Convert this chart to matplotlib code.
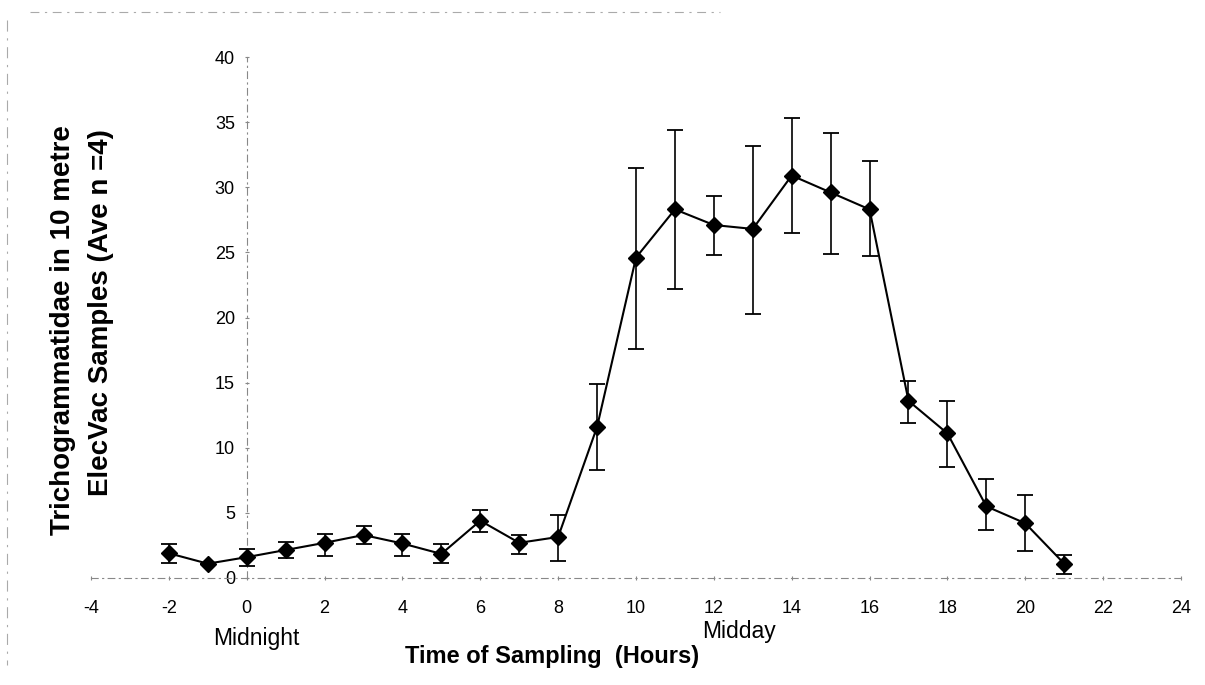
import matplotlib as mpl
import matplotlib.pyplot as plt
import numpy as np

# hours of sampling (relative to midnight)
hours = list(range(-2, 22))
# mean Trichogrammatidae counts (Ave n=4)
mean_count = [1.9, 1.1, 1.6, 2.15, 2.7, 3.3, 2.65, 1.85, 4.4, 2.7, 3.15, 11.6,
              24.6, 28.3, 27.1, 26.8, 30.9, 29.6, 28.3, 13.6, 11.1, 5.5, 4.2, 1.1]
# error bar ends
err_top = [2.6, 1.1, 2.2, 2.8, 3.4, 4.0, 3.4, 2.6, 5.2, 3.3, 4.8, 14.9,
           31.5, 34.4, 29.3, 33.2, 35.3, 34.2, 32.0, 15.1, 13.6, 7.6, 6.4, 1.8]
err_bot = [1.15, 1.1, 0.9, 1.5, 1.7, 2.6, 1.7, 1.15, 3.5, 1.85, 1.3, 8.3,
           17.6, 22.2, 24.8, 20.3, 26.5, 24.9, 24.7, 11.9, 8.5, 3.7, 2.1, 0.3]

x_ticks = list(range(-4, 25, 2))
y_ticks = list(range(0, 41, 5))

mpl.rcParams.update({"font.family": ["Liberation Sans", "DejaVu Sans"],
                     "axes.unicode_minus": False})

fig = plt.figure(figsize=(12.05, 6.85), dpi=100)
ax = fig.add_axes([91 / 1205, 1 - 578 / 685, (1181 - 91) / 1205, (578 - 57) / 685])

y = np.array(mean_count)
yerr = [y - np.array(err_bot), np.array(err_top) - y]
ax.errorbar(hours, y, yerr=yerr, color="black", lw=1.5, elinewidth=1.2,
            capsize=5.5, capthick=1.3, marker="D", ms=8.5, mfc="black", mec="black",
            zorder=3)

ax.set_xlim(-4, 24)
ax.set_ylim(0, 40)
ax.set_xticks(x_ticks)
ax.set_yticks(y_ticks)

for side in ("top", "right"):
    ax.spines[side].set_visible(False)
ax.spines["left"].set_position(("data", 0))
for side in ("left", "bottom"):
    ax.spines[side].set_color("#888888")
    ax.spines[side].set_linewidth(0.8)
    ax.spines[side].set_linestyle((0, (6, 4, 1, 4)))

ax.tick_params(axis="both", labelsize=13, colors="#888888", labelcolor="black",
               length=3, width=0.8, direction="inout")
ax.tick_params(axis="x", pad=14)
ax.tick_params(axis="y", pad=7)

ax.text(0.25, -0.117, "Midnight", transform=ax.get_xaxis_transform(),
        ha="center", va="center", fontsize=16.5)
ax.text(12.65, -0.102, "Midday", transform=ax.get_xaxis_transform(),
        ha="center", va="center", fontsize=16.5)
fig.text(552 / 1205, 1 - 656 / 685, "Time of Sampling  (Hours)",
         ha="center", va="center", fontsize=17, fontweight="bold")
fig.text(63 / 1205, 1 - 330 / 685, "Trichogrammatidae in 10 metre",
         ha="center", va="center", rotation=90, fontsize=20, fontweight="bold")
fig.text(101 / 1205, 1 - 313 / 685, "ElecVac Samples (Ave n =4)",
         ha="center", va="center", rotation=90, fontsize=20, fontweight="bold")

# faint frame remnants from the scanned page
fig.add_artist(plt.Line2D([30 / 1205, 720 / 1205], [1 - 12 / 685] * 2,
                          transform=fig.transFigure, color="#aaaaaa", lw=0.8,
                          ls=(0, (8, 5, 2, 5))))
fig.add_artist(plt.Line2D([7 / 1205] * 2, [1 - 20 / 685, 1 - 665 / 685],
                          transform=fig.transFigure, color="#aaaaaa", lw=0.8,
                          ls=(0, (10, 6, 2, 6))))

fig.savefig("out.png", dpi=100)
